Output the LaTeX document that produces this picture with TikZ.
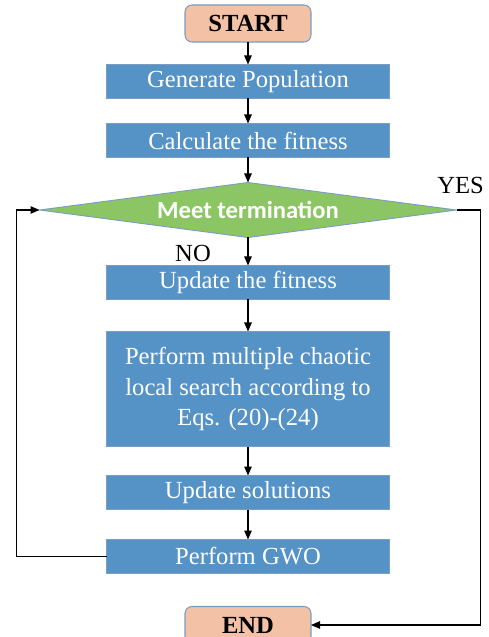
\documentclass[tikz,border=0pt]{standalone}
\usepackage{fontspec}
\setmainfont{Liberation Serif}
\newfontfamily\calibrifont{Carlito}
\usetikzlibrary{positioning}
\usetikzlibrary{shapes.geometric}
\usetikzlibrary{arrows.meta}

\definecolor{boxblue}{HTML}{5592C6}
\definecolor{boxedge}{HTML}{7A9CC0}
\definecolor{termsalmon}{HTML}{F3C1A6}
\definecolor{decgreen}{HTML}{8CC563}

\begin{document}
\begin{tikzpicture}[thick, outer sep=0,
    line width=0.6pt,
    stepbox/.style={draw=boxedge, line width=0.5pt, rectangle, fill=boxblue, text=white,
        minimum width=5.66cm, minimum height=0.68cm, inner sep=0pt,
        font=\fontsize{14}{17.5}\selectfont},
    termbox/.style={draw=boxedge, line width=0.6pt, rectangle, rounded corners=4pt, fill=termsalmon,
        minimum width=2.52cm, minimum height=0.74cm, font=\fontsize{14}{17}\selectfont\bfseries},
    flow/.style={-{Triangle[length=1.8mm, width=1.5mm]}, line width=0.6pt}]
        \useasboundingbox (0,0) rectangle (9.76,-12.74);
        % start and main steps
        \node [termbox] (start) at (4.96,-0.47) {START};
        \node [stepbox, below = 0.45cm of start] (gen) {Generate Population};
        \node [stepbox, below = 0.5cm of gen] (calc) {Calculate the fitness};
        % termination check
        \node [draw=boxedge, line width=0.5pt, diamond, aspect=7.6, fill=decgreen, text=white,
            minimum width=8.34cm, minimum height=1.1cm, inner sep=0pt,
            font=\calibrifont\fontsize{14}{17}\selectfont\bfseries, below = 0.5cm of calc] (meet) {Meet termination};
        \node [stepbox, below = 0.56cm of meet] (upd) {Update the fitness};
        \node [stepbox, minimum height=2.3cm, align=center, below = 0.64cm of upd] (cls)
            {Perform multiple chaotic\\local search according to\\Eqs. (20)-(24)};
        \node [stepbox, below = 0.58cm of cls] (sol) {Update solutions};
        \node [stepbox, below = 0.6cm of sol] (gwo) {Perform GWO};
        \node [termbox, below = 0.66cm of gwo] (end) {END};
        % labels
        \node [font=\fontsize{14}{17}\selectfont] (no) at ([xshift=-1.1cm, yshift=-0.32cm]meet.south) {NO};
        \node [font=\fontsize{14}{17}\selectfont] (yes) at ([xshift=0.08cm, yshift=0.5cm]meet.east) {YES};
        % arrows
        \draw[flow] (start) -- (gen);
        \draw[flow] (gen) -- (calc);
        \draw[flow] (calc) -- (meet);
        \draw[flow] (meet) -- (upd);
        \draw[flow] (upd) -- (cls);
        \draw[flow] (cls) -- (sol);
        \draw[flow] (sol) -- (gwo);
        \draw[flow] (gwo.west) -- ++(-1.8,0) |- (meet.west);
        \draw[flow] (meet.east) -- ++(0.48,0) |- (end.east);
    \end{tikzpicture}
\end{document}
